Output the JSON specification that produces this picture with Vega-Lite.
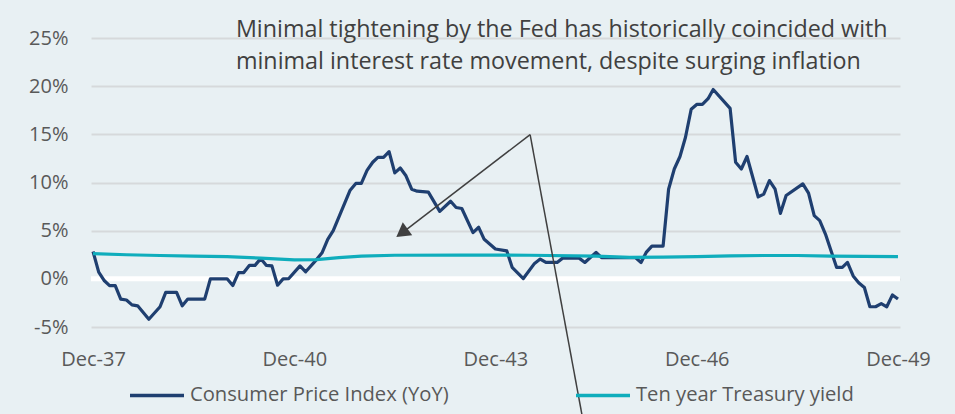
{
  "$schema": "https://vega.github.io/schema/vega-lite/v6.json",
  "width": 809,
  "height": 289,
  "autosize": {"type": "none"},
  "padding": {"left": 91, "top": 38, "right": 55, "bottom": 87},
  "background": "#E8F0F3",
  "config": {
    "view": {"stroke": null},
    "font": "Open Sans",
    "axis": {"labelFont": "Open Sans", "labelColor": "#595959", "labelFontSize": 20, "domain": false, "ticks": false, "tickSize": 0},
    "legend": {"labelFont": "Open Sans"}
  },
  "datasets": {
    "series": [
      {"date": "1937-12-01", "series": "Consumer Price Index (YoY)", "value": 2.84},
      {"date": "1938-01-01", "series": "Consumer Price Index (YoY)", "value": 0.7},
      {"date": "1938-02-01", "series": "Consumer Price Index (YoY)", "value": -0.2},
      {"date": "1938-03-01", "series": "Consumer Price Index (YoY)", "value": -0.7},
      {"date": "1938-04-01", "series": "Consumer Price Index (YoY)", "value": -0.7},
      {"date": "1938-05-01", "series": "Consumer Price Index (YoY)", "value": -2.1},
      {"date": "1938-06-01", "series": "Consumer Price Index (YoY)", "value": -2.2},
      {"date": "1938-07-01", "series": "Consumer Price Index (YoY)", "value": -2.7},
      {"date": "1938-08-01", "series": "Consumer Price Index (YoY)", "value": -2.8},
      {"date": "1938-10-01", "series": "Consumer Price Index (YoY)", "value": -4.2},
      {"date": "1938-12-01", "series": "Consumer Price Index (YoY)", "value": -2.9},
      {"date": "1939-01-01", "series": "Consumer Price Index (YoY)", "value": -1.4},
      {"date": "1939-03-01", "series": "Consumer Price Index (YoY)", "value": -1.4},
      {"date": "1939-04-01", "series": "Consumer Price Index (YoY)", "value": -2.8},
      {"date": "1939-05-01", "series": "Consumer Price Index (YoY)", "value": -2.1},
      {"date": "1939-08-01", "series": "Consumer Price Index (YoY)", "value": -2.1},
      {"date": "1939-09-01", "series": "Consumer Price Index (YoY)", "value": 0},
      {"date": "1939-12-01", "series": "Consumer Price Index (YoY)", "value": 0},
      {"date": "1940-01-01", "series": "Consumer Price Index (YoY)", "value": -0.7},
      {"date": "1940-02-01", "series": "Consumer Price Index (YoY)", "value": 0.65},
      {"date": "1940-03-01", "series": "Consumer Price Index (YoY)", "value": 0.65},
      {"date": "1940-04-01", "series": "Consumer Price Index (YoY)", "value": 1.4},
      {"date": "1940-05-01", "series": "Consumer Price Index (YoY)", "value": 1.4},
      {"date": "1940-06-01", "series": "Consumer Price Index (YoY)", "value": 2.1},
      {"date": "1940-07-01", "series": "Consumer Price Index (YoY)", "value": 1.4},
      {"date": "1940-08-01", "series": "Consumer Price Index (YoY)", "value": 1.35},
      {"date": "1940-09-01", "series": "Consumer Price Index (YoY)", "value": -0.66},
      {"date": "1940-10-01", "series": "Consumer Price Index (YoY)", "value": 0},
      {"date": "1940-11-01", "series": "Consumer Price Index (YoY)", "value": 0.03},
      {"date": "1941-01-01", "series": "Consumer Price Index (YoY)", "value": 1.35},
      {"date": "1941-02-01", "series": "Consumer Price Index (YoY)", "value": 0.73},
      {"date": "1941-04-01", "series": "Consumer Price Index (YoY)", "value": 2.0},
      {"date": "1941-05-01", "series": "Consumer Price Index (YoY)", "value": 2.7},
      {"date": "1941-06-01", "series": "Consumer Price Index (YoY)", "value": 4.1},
      {"date": "1941-07-01", "series": "Consumer Price Index (YoY)", "value": 5.0},
      {"date": "1941-10-01", "series": "Consumer Price Index (YoY)", "value": 9.2},
      {"date": "1941-11-01", "series": "Consumer Price Index (YoY)", "value": 9.9},
      {"date": "1941-12-01", "series": "Consumer Price Index (YoY)", "value": 9.9},
      {"date": "1942-01-01", "series": "Consumer Price Index (YoY)", "value": 11.25},
      {"date": "1942-02-01", "series": "Consumer Price Index (YoY)", "value": 12.1},
      {"date": "1942-03-01", "series": "Consumer Price Index (YoY)", "value": 12.6},
      {"date": "1942-04-01", "series": "Consumer Price Index (YoY)", "value": 12.6},
      {"date": "1942-05-01", "series": "Consumer Price Index (YoY)", "value": 13.2},
      {"date": "1942-06-01", "series": "Consumer Price Index (YoY)", "value": 11.0},
      {"date": "1942-07-01", "series": "Consumer Price Index (YoY)", "value": 11.5},
      {"date": "1942-08-01", "series": "Consumer Price Index (YoY)", "value": 10.7},
      {"date": "1942-09-01", "series": "Consumer Price Index (YoY)", "value": 9.3},
      {"date": "1942-10-01", "series": "Consumer Price Index (YoY)", "value": 9.1},
      {"date": "1942-12-01", "series": "Consumer Price Index (YoY)", "value": 9.0},
      {"date": "1943-02-01", "series": "Consumer Price Index (YoY)", "value": 7.0},
      {"date": "1943-04-01", "series": "Consumer Price Index (YoY)", "value": 8.05},
      {"date": "1943-05-01", "series": "Consumer Price Index (YoY)", "value": 7.4},
      {"date": "1943-06-01", "series": "Consumer Price Index (YoY)", "value": 7.3},
      {"date": "1943-08-01", "series": "Consumer Price Index (YoY)", "value": 4.8},
      {"date": "1943-09-01", "series": "Consumer Price Index (YoY)", "value": 5.35},
      {"date": "1943-10-01", "series": "Consumer Price Index (YoY)", "value": 4.1},
      {"date": "1943-12-01", "series": "Consumer Price Index (YoY)", "value": 3.1},
      {"date": "1944-02-01", "series": "Consumer Price Index (YoY)", "value": 2.9},
      {"date": "1944-03-01", "series": "Consumer Price Index (YoY)", "value": 1.2},
      {"date": "1944-05-01", "series": "Consumer Price Index (YoY)", "value": 0.03},
      {"date": "1944-07-01", "series": "Consumer Price Index (YoY)", "value": 1.6},
      {"date": "1944-08-01", "series": "Consumer Price Index (YoY)", "value": 2.05},
      {"date": "1944-09-01", "series": "Consumer Price Index (YoY)", "value": 1.7},
      {"date": "1944-11-01", "series": "Consumer Price Index (YoY)", "value": 1.7},
      {"date": "1944-12-01", "series": "Consumer Price Index (YoY)", "value": 2.15},
      {"date": "1945-03-01", "series": "Consumer Price Index (YoY)", "value": 2.15},
      {"date": "1945-04-01", "series": "Consumer Price Index (YoY)", "value": 1.7},
      {"date": "1945-06-01", "series": "Consumer Price Index (YoY)", "value": 2.75},
      {"date": "1945-07-01", "series": "Consumer Price Index (YoY)", "value": 2.2},
      {"date": "1946-01-01", "series": "Consumer Price Index (YoY)", "value": 2.2},
      {"date": "1946-02-01", "series": "Consumer Price Index (YoY)", "value": 1.7},
      {"date": "1946-03-01", "series": "Consumer Price Index (YoY)", "value": 2.74},
      {"date": "1946-04-01", "series": "Consumer Price Index (YoY)", "value": 3.4},
      {"date": "1946-06-01", "series": "Consumer Price Index (YoY)", "value": 3.4},
      {"date": "1946-07-01", "series": "Consumer Price Index (YoY)", "value": 9.3},
      {"date": "1946-08-01", "series": "Consumer Price Index (YoY)", "value": 11.4},
      {"date": "1946-09-01", "series": "Consumer Price Index (YoY)", "value": 12.7},
      {"date": "1946-10-01", "series": "Consumer Price Index (YoY)", "value": 14.7},
      {"date": "1946-11-01", "series": "Consumer Price Index (YoY)", "value": 17.6},
      {"date": "1946-12-01", "series": "Consumer Price Index (YoY)", "value": 18.1},
      {"date": "1947-01-01", "series": "Consumer Price Index (YoY)", "value": 18.1},
      {"date": "1947-02-01", "series": "Consumer Price Index (YoY)", "value": 18.7},
      {"date": "1947-03-01", "series": "Consumer Price Index (YoY)", "value": 19.65},
      {"date": "1947-06-01", "series": "Consumer Price Index (YoY)", "value": 17.7},
      {"date": "1947-07-01", "series": "Consumer Price Index (YoY)", "value": 12.1},
      {"date": "1947-08-01", "series": "Consumer Price Index (YoY)", "value": 11.4},
      {"date": "1947-09-01", "series": "Consumer Price Index (YoY)", "value": 12.7},
      {"date": "1947-11-01", "series": "Consumer Price Index (YoY)", "value": 8.5},
      {"date": "1947-12-01", "series": "Consumer Price Index (YoY)", "value": 8.8},
      {"date": "1948-01-01", "series": "Consumer Price Index (YoY)", "value": 10.2},
      {"date": "1948-02-01", "series": "Consumer Price Index (YoY)", "value": 9.3},
      {"date": "1948-03-01", "series": "Consumer Price Index (YoY)", "value": 6.8},
      {"date": "1948-04-01", "series": "Consumer Price Index (YoY)", "value": 8.65},
      {"date": "1948-07-01", "series": "Consumer Price Index (YoY)", "value": 9.86},
      {"date": "1948-08-01", "series": "Consumer Price Index (YoY)", "value": 8.9},
      {"date": "1948-09-01", "series": "Consumer Price Index (YoY)", "value": 6.56},
      {"date": "1948-10-01", "series": "Consumer Price Index (YoY)", "value": 6.04},
      {"date": "1948-11-01", "series": "Consumer Price Index (YoY)", "value": 4.65},
      {"date": "1949-01-01", "series": "Consumer Price Index (YoY)", "value": 1.18},
      {"date": "1949-02-01", "series": "Consumer Price Index (YoY)", "value": 1.18},
      {"date": "1949-03-01", "series": "Consumer Price Index (YoY)", "value": 1.7},
      {"date": "1949-04-01", "series": "Consumer Price Index (YoY)", "value": 0.3},
      {"date": "1949-05-01", "series": "Consumer Price Index (YoY)", "value": -0.4},
      {"date": "1949-06-01", "series": "Consumer Price Index (YoY)", "value": -0.9},
      {"date": "1949-07-01", "series": "Consumer Price Index (YoY)", "value": -2.9},
      {"date": "1949-08-01", "series": "Consumer Price Index (YoY)", "value": -2.9},
      {"date": "1949-09-01", "series": "Consumer Price Index (YoY)", "value": -2.57},
      {"date": "1949-10-01", "series": "Consumer Price Index (YoY)", "value": -2.9},
      {"date": "1949-11-01", "series": "Consumer Price Index (YoY)", "value": -1.67},
      {"date": "1949-12-01", "series": "Consumer Price Index (YoY)", "value": -2.1},
      {"date": "1937-12-01", "series": "Ten year Treasury yield", "value": 2.62},
      {"date": "1938-06-01", "series": "Ten year Treasury yield", "value": 2.5},
      {"date": "1938-12-01", "series": "Ten year Treasury yield", "value": 2.42},
      {"date": "1939-06-01", "series": "Ten year Treasury yield", "value": 2.35},
      {"date": "1939-12-01", "series": "Ten year Treasury yield", "value": 2.3},
      {"date": "1940-06-01", "series": "Ten year Treasury yield", "value": 2.15},
      {"date": "1940-12-01", "series": "Ten year Treasury yield", "value": 1.97},
      {"date": "1941-04-01", "series": "Ten year Treasury yield", "value": 2.0},
      {"date": "1941-08-01", "series": "Ten year Treasury yield", "value": 2.2},
      {"date": "1941-12-01", "series": "Ten year Treasury yield", "value": 2.35},
      {"date": "1942-06-01", "series": "Ten year Treasury yield", "value": 2.45},
      {"date": "1943-06-01", "series": "Ten year Treasury yield", "value": 2.46},
      {"date": "1944-06-01", "series": "Ten year Treasury yield", "value": 2.45},
      {"date": "1945-06-01", "series": "Ten year Treasury yield", "value": 2.35},
      {"date": "1945-12-01", "series": "Ten year Treasury yield", "value": 2.22},
      {"date": "1946-06-01", "series": "Ten year Treasury yield", "value": 2.25},
      {"date": "1946-12-01", "series": "Ten year Treasury yield", "value": 2.3},
      {"date": "1947-06-01", "series": "Ten year Treasury yield", "value": 2.38},
      {"date": "1947-12-01", "series": "Ten year Treasury yield", "value": 2.42},
      {"date": "1948-06-01", "series": "Ten year Treasury yield", "value": 2.42},
      {"date": "1948-12-01", "series": "Ten year Treasury yield", "value": 2.35},
      {"date": "1949-12-01", "series": "Ten year Treasury yield", "value": 2.3}
    ],
    "arrows": [
      {"x": "1944-06-07", "y": 14.97, "x2": "1942-07-20", "y2": 4.91},
      {"x": "1944-06-07", "y": 14.97, "x2": "1945-03-30", "y2": -15.52}
    ],
    "heads": [
      {"x": "1942-07-20", "y": 4.91}
    ]
  },
  "layer": [
    {
      "data": {"values": [{"zero": 0}]},
      "mark": {"type": "rule", "color": "#FFFFFF", "strokeWidth": 5},
      "encoding": {"y": {"field": "zero", "type": "quantitative"}}
    },
    {
      "data": {"name": "series"},
      "mark": {"type": "line", "strokeWidth": 3.2, "strokeJoin": "round"},
      "encoding": {
        "x": {
          "field": "date",
          "type": "temporal",
          "scale": {"type": "utc", "domain": [{"year": 1937, "month": 11, "date": 20, "utc": true}, {"year": 1949, "month": 12, "date": 12, "utc": true}]},
          "axis": {
            "title": null,
            "grid": false,
            "labelExpr": "utcFormat(datum.value, '%b-%y')",
            "labelPadding": 22,
            "values": [
              {"year": 1937, "month": 12, "date": 1, "utc": true},
              {"year": 1940, "month": 12, "date": 1, "utc": true},
              {"year": 1943, "month": 12, "date": 1, "utc": true},
              {"year": 1946, "month": 12, "date": 1, "utc": true},
              {"year": 1949, "month": 12, "date": 1, "utc": true}
            ]
          }
        },
        "y": {
          "field": "value",
          "type": "quantitative",
          "scale": {"domain": [-5, 25], "nice": false, "zero": false},
          "axis": {
            "title": null,
            "values": [-5, 0, 5, 10, 15, 20, 25],
            "labelExpr": "datum.value + '%'",
            "labelPadding": 23,
            "grid": true,
            "gridColor": "#D6D9DB",
            "gridWidth": 1.8
          }
        },
        "color": {
          "field": "series",
          "type": "nominal",
          "scale": {"domain": ["Consumer Price Index (YoY)", "Ten year Treasury yield"], "range": ["#1F3F70", "#0FADBC"]},
          "legend": {
            "title": null,
            "orient": "none",
            "direction": "horizontal",
            "legendX": 37,
            "legendY": 328,
            "symbolType": "stroke",
            "symbolSize": 2916,
            "symbolStrokeWidth": 3.5,
            "labelFontSize": 20.2,
            "labelLimit": 500,
            "labelColor": "#595959",
            "labelOffset": 4,
            "columnPadding": 120,
            "padding": 0
          }
        }
      }
    },
    {
      "data": {"name": "arrows"},
      "mark": {"type": "rule", "color": "#404040", "strokeWidth": 1.5},
      "encoding": {
        "x": {"field": "x", "type": "temporal"},
        "y": {"field": "y", "type": "quantitative"},
        "x2": {"field": "x2"},
        "y2": {"field": "y2"}
      }
    },
    {
      "data": {"name": "heads"},
      "mark": {"type": "point", "shape": "triangle", "filled": true, "color": "#404040", "size": 256, "angle": 234, "opacity": 1},
      "encoding": {
        "x": {"field": "x", "type": "temporal"},
        "y": {"field": "y", "type": "quantitative"}
      }
    },
    {
      "data": {"values": [{"t": 0}]},
      "mark": {
        "type": "text",
        "text": ["Minimal tightening by the Fed has historically coincided with", "minimal interest rate movement, despite surging inflation"],
        "align": "left",
        "baseline": "alphabetic",
        "fontSize": 23.3,
        "lineHeight": 32,
        "color": "#404040",
        "font": "Open Sans"
      },
      "encoding": {
        "x": {"datum": {"year": 1940, "month": 1, "date": 18, "utc": true}, "type": "temporal"},
        "y": {"datum": 25.1, "type": "quantitative"}
      }
    }
  ]
}
